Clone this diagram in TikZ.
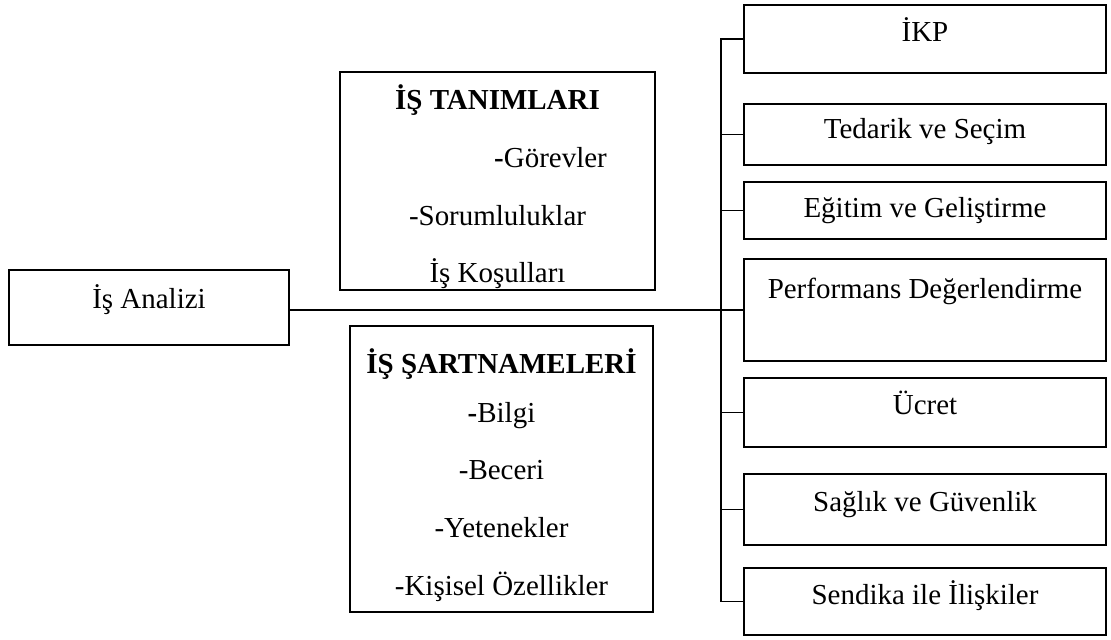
\documentclass[tikz,border=0pt]{standalone}
\usepackage{fontspec}
\setmainfont{Liberation Serif}
\begin{document}
\begin{tikzpicture}[x=0.025cm,y=-0.025cm,
  box/.style={draw, line width=1.4pt, inner sep=0pt, font=\fontsize{20.6}{41}\selectfont},
  rbox/.style 2 args={box, anchor=north, minimum width=9.05cm, text height=#1, text depth=#2},
  link/.style={line width=1.4pt}]
\useasboundingbox (0,0) rectangle (1111,639);
\node[box, anchor=north, minimum width=7cm, text height=0.95cm, text depth=0.925cm] (analiz) at (149,269) {İş Analizi};
\node[box, align=center, minimum width=7.875cm, minimum height=5.45cm] (tanim) at (497.5,181)
  {\rule{0pt}{0.92cm}\textbf{İŞ TANIMLARI}\\\hspace*{2.65cm}\textbf{-}Görevler\\-Sorumluluklar\\İş Koşulları};
\node[box, align=center, minimum width=7.575cm, minimum height=7.15cm] (sartname) at (501.5,469)
  {\rule{0pt}{0.92cm}\textbf{İŞ ŞARTNAMELERİ}\\[-6.4pt]\textbf{-}Bilgi\\-Beceri\\-Yetenekler\\-Kişisel Özellikler};
\node[rbox={0.925cm}{0.775cm}] (ikp) at (925,4) {İKP};
\node[rbox={0.875cm}{0.65cm}] (ted) at (925,103) {Tedarik ve Seçim};
\node[rbox={0.9cm}{0.525cm}] (egi) at (925,181) {Eğitim ve Geliştirme};
\node[rbox={0.975cm}{1.575cm}] (perf) at (925,258) {Performans Değerlendirme};
\node[rbox={0.9cm}{0.825cm}] (ucr) at (925,377) {Ücret};
\node[rbox={0.925cm}{0.85cm}] (sag) at (925,473) {Sağlık ve Güvenlik};
\node[rbox={0.9cm}{0.775cm}] (send) at (925,567) {Sendika ile İlişkiler};
\coordinate (bus) at (721,38);
\draw[link] (ikp.west) -- (ikp.west -| bus) |- (send.west);
\foreach \n in {ted,egi,ucr,sag}
  \draw[link] (\n.west) -- (\n.west -| bus);
\draw[link] (perf.west) -- (perf.west -| analiz.east);
\end{tikzpicture}
\end{document}
